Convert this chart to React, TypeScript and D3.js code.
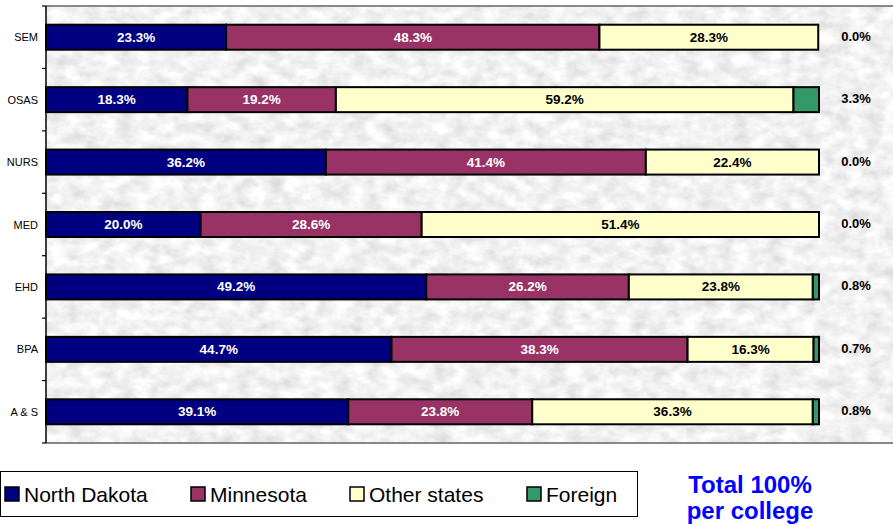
import React from "react";
import * as d3 from "d3";

const categories = ["SEM", "OSAS", "NURS", "MED", "EHD", "BPA", "A & S"];
const seriesNames = ["North Dakota", "Minnesota", "Other states", "Foreign"];
const northDakota = [23.3, 18.3, 36.2, 20.0, 49.2, 44.7, 39.1];
const minnesota = [48.3, 19.2, 41.4, 28.6, 26.2, 38.3, 23.8];
const otherStates = [28.3, 59.2, 22.4, 51.4, 23.8, 16.3, 36.3];
const foreign = [0.0, 3.3, 0.0, 0.0, 0.8, 0.7, 0.8];
const colors = ["#000080", "#993366", "#FFFFCC", "#339966"];
const labelColors = ["#ffffff", "#ffffff", "#000000", "#000000"];
const noteLines = ["Total 100%", "per college"];

const W = 893;
const H = 525;
const left = 46;
const top = 6;
const bottom = 443;
const FONT = "Arial, 'Liberation Sans', Helvetica, sans-serif";

export default function App() {
  const series = [northDakota, minnesota, otherStates, foreign];
  const rows = categories.map((c, i) => {
    const o: any = { cat: c };
    seriesNames.forEach((s, k) => (o[s] = series[k][i]));
    return o;
  });
  const stacked = d3.stack().keys(seriesNames)(rows);
  const x = d3.scaleLinear().domain([0, 100]).range([left, 819]);
  const y = d3.scaleBand().domain(categories).range([top, bottom]).paddingInner(0).paddingOuter(0);
  const barH = 25;
  const bw = y.bandwidth();
  const legendX = [5, 191, 350, 527];

  return (
    <svg width={W} height={H} style={{ position: "absolute", left: 0, top: 0, background: "#fff" }}>
      <defs>
        <filter id="granite" x="0" y="0" width="100%" height="100%">
          <feTurbulence type="fractalNoise" baseFrequency="0.06 0.09" numOctaves={3} seed={3} result="n" />
          <feColorMatrix
            in="n"
            type="matrix"
            values="0.45 0 0 0 0.66  0.45 0 0 0 0.66  0.45 0 0 0 0.66  0 0 0 0 1"
          />
        </filter>
      </defs>
      <rect x={left} y={top} width={W - left} height={bottom - top} filter="url(#granite)" fill="#eee" />
      <line x1={left} x2={W} y1={top} y2={top} stroke="#888" strokeWidth={2} />
      <line x1={left} x2={W} y1={bottom} y2={bottom} stroke="#888" strokeWidth={2} />
      <line x1={left} x2={left} y1={top} y2={bottom} stroke="#000" strokeWidth={1.5} />
      {d3.range(categories.length + 1).map((i) => {
        const yy = top + i * bw;
        return <line key={i} x1={left - 4} x2={left} y1={yy} y2={yy} stroke="#000" strokeWidth={1.2} />;
      })}
      {categories.map((c) => (
        <text
          key={c}
          x={38}
          y={(y(c) as number) + bw / 2}
          textAnchor="end"
          dominantBaseline="central"
          fontFamily={FONT}
          fontSize={11}
          fill="#000"
        >
          {c}
        </text>
      ))}
      {stacked.map((layer, k) =>
        layer.map((d, i) => {
          const cy = (y(categories[i]) as number) + bw / 2;
          const x0 = x(d[0]);
          const x1 = x(d[1]);
          const v = series[k][i];
          return (
            <g key={k + "-" + i}>
              {x1 - x0 > 0.01 && (
                <rect x={x0} y={cy - barH / 2} width={x1 - x0} height={barH} fill={colors[k]} stroke="#000" strokeWidth={2} />
              )}
              {k < 3 ? (
                <text
                  x={(x0 + x1) / 2}
                  y={cy}
                  textAnchor="middle"
                  dominantBaseline="central"
                  fontFamily={FONT}
                  fontWeight="bold"
                  fontSize={13.5}
                  fill={labelColors[k]}
                >
                  {v.toFixed(1)}%
                </text>
              ) : (
                <text
                  x={856}
                  y={cy - 1}
                  textAnchor="middle"
                  dominantBaseline="central"
                  fontFamily={FONT}
                  fontWeight="bold"
                  fontSize={13}
                  fill="#000"
                >
                  {v.toFixed(1)}%
                </text>
              )}
            </g>
          );
        })
      )}
      <rect x={0.5} y={471.5} width={637} height={45} fill="#fff" stroke="#000" strokeWidth={1} />
      {seriesNames.map((s, k) => {
        const lx = legendX[k];
        return (
          <g key={s}>
            <rect x={lx} y={487} width={14} height={14} fill={colors[k]} stroke="#000" strokeWidth={1.5} />
            <text x={lx + 19} y={494.5} dominantBaseline="central" fontFamily={FONT} fontSize={21} fill="#000">
              {s}
            </text>
          </g>
        );
      })}
      {noteLines.map((t, i) => (
        <text
          key={t}
          x={750}
          y={493 + i * 26}
          textAnchor="middle"
          fontFamily={FONT}
          fontWeight="bold"
          fontSize={24}
          fill="#0000FF"
        >
          {t}
        </text>
      ))}
    </svg>
  );
}
